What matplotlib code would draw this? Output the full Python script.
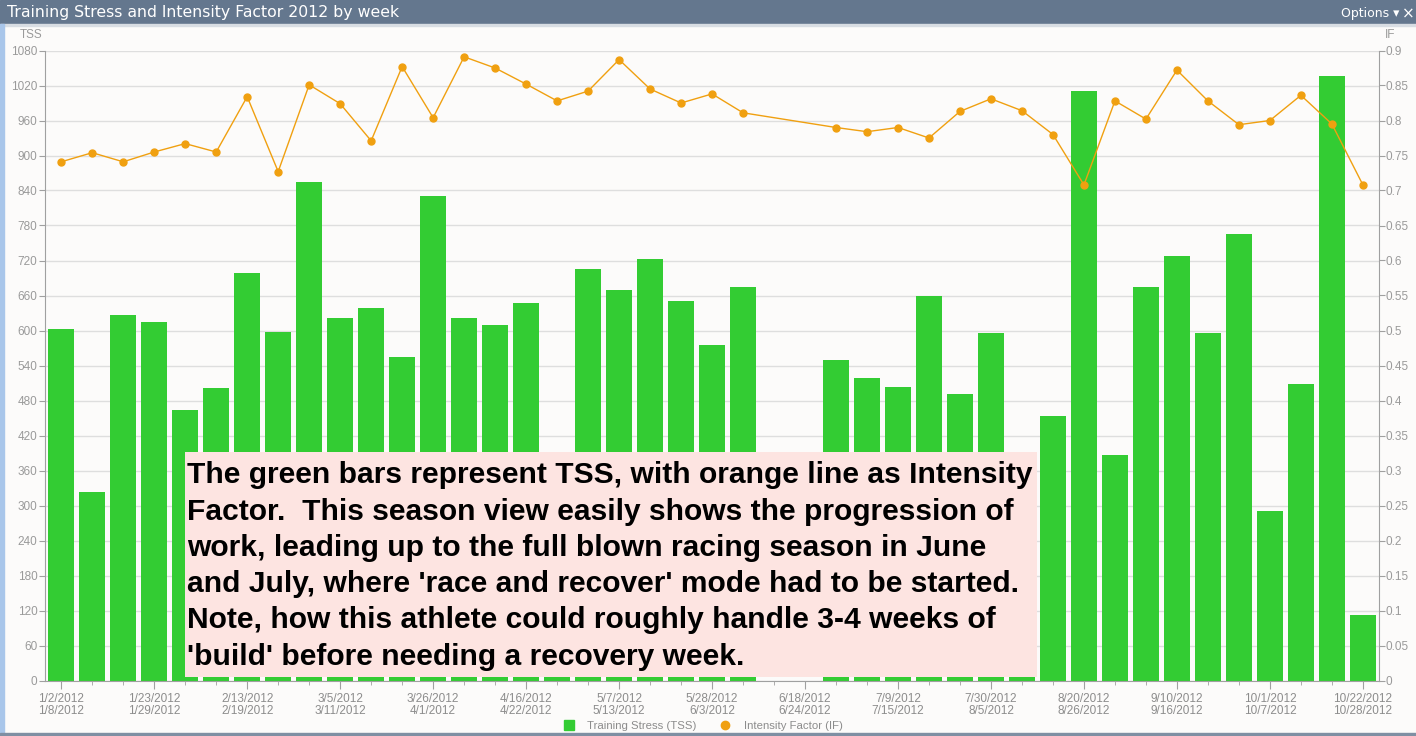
import numpy as np
import matplotlib
matplotlib.use("Agg")
import matplotlib.pyplot as plt
from matplotlib.patches import Rectangle
from matplotlib.lines import Line2D
from matplotlib import font_manager

# weekly data, 1/2/2012 .. 10/22/2012 (43 weeks), None = no data that week
tss = [603, 324, 627, 615, 463, 502, 698, 597, 854, 621, 638, 554, 831, 621,
       609, 648, 350, 706, 669, 723, 651, 576, 675, None, None, 549, 518, 504,
       660, 492, 595, 360, 454, 1011, 387, 675, 727, 595, 766, 291, 509, 1037, 113]
intensity = [0.741, 0.754, 0.741, 0.755, 0.767, 0.755, 0.834, 0.727, 0.851, 0.824,
             0.771, 0.877, 0.804, 0.891, 0.875, 0.852, 0.828, 0.842, 0.887, 0.845,
             0.825, 0.838, 0.811, None, None, 0.790, 0.784, 0.790, 0.775, 0.813,
             0.831, 0.814, 0.780, 0.708, 0.828, 0.802, 0.872, 0.828, 0.794, 0.800,
             0.836, 0.795, 0.708]

# every third week is labelled: week start / week end
start_labels = ["1/2/2012", "1/23/2012", "2/13/2012", "3/5/2012", "3/26/2012",
                "4/16/2012", "5/7/2012", "5/28/2012", "6/18/2012", "7/9/2012",
                "7/30/2012", "8/20/2012", "9/10/2012", "10/1/2012", "10/22/2012"]
end_labels = ["1/8/2012", "1/29/2012", "2/19/2012", "3/11/2012", "4/1/2012",
              "4/22/2012", "5/13/2012", "6/3/2012", "6/24/2012", "7/15/2012",
              "8/5/2012", "8/26/2012", "9/16/2012", "10/7/2012", "10/28/2012"]

note_lines = [
    "The green bars represent TSS, with orange line as Intensity",
    "Factor.  This season view easily shows the progression of",
    "work, leading up to the full blown racing season in June",
    "and July, where 'race and recover' mode had to be started.",
    "Note, how this athlete could roughly handle 3-4 weeks of",
    "'build' before needing a recovery week.",
]

installed = {f.name for f in font_manager.fontManager.ttflist}
narrow = 'Liberation Sans Narrow' if 'Liberation Sans Narrow' in installed else 'Liberation Sans'

W, H = 1416, 736
def fx(p):
    return p / W
def fy(p):
    return 1 - p / H

GREEN = '#33cc33'
ORANGE = '#f0a010'
GREY = '#a0a0a0'
BG = '#fcfbfa'

fig = plt.figure(figsize=(W / 100, H / 100), dpi=100)
fig.patch.set_facecolor(BG)

# window chrome
fig.add_artist(Rectangle((0, fy(24)), 1, 24 / H, transform=fig.transFigure,
                         color='#64778e', zorder=0))
fig.add_artist(Rectangle((0, fy(26)), 1, 2 / H, transform=fig.transFigure,
                         color='#d8dde3', zorder=0))
fig.add_artist(Rectangle((0, 0), fx(4), fy(24), transform=fig.transFigure,
                         color='#a9c6ea', zorder=0))
fig.add_artist(Rectangle((0, 0), 1, 3 / H, transform=fig.transFigure,
                         color='#7f8fa3', zorder=0))
fig.text(fx(7), fy(12), "Training Stress and Intensity Factor 2012 by week",
         color='white', fontsize=11.3, va='center', ha='left', family='DejaVu Sans')
fig.text(fx(1341), fy(14), "Options \u25be", color='white', fontsize=9,
         va='center', ha='left', family='DejaVu Sans')
fig.text(fx(1402), fy(14), "\u00d7", color='white', fontsize=11,
         va='center', ha='left', family='DejaVu Sans')

x = np.arange(len(tss))
tss_arr = np.array([np.nan if v is None else v for v in tss], dtype=float)
has_if = [i for i, v in enumerate(intensity) if v is not None]

ax = fig.add_axes([fx(44.5), fy(680.5), fx(1379) - fx(44.5), (680.5 - 50.5) / H])
ax.set_facecolor(BG)
ok = ~np.isnan(tss_arr)
ax.bar(x[ok], tss_arr[ok], width=0.84, color=GREEN, zorder=2)
ax.set_xlim(-0.54, 42.52)
ax.set_ylim(0, 1080)
ax.set_yticks(range(0, 1081, 60))
ax.yaxis.grid(True, color='#dedede', lw=1)
ax.set_axisbelow(True)
for s in ['top', 'right']:
    ax.spines[s].set_visible(False)
for s in ['left', 'bottom']:
    ax.spines[s].set_color(GREY)
ax.set_xticks(x[::3])
ax.set_xticklabels([a + "\n" + b for a, b in zip(start_labels, end_labels)])
ax.set_xticks(x, minor=True)
ax.tick_params(axis='x', which='major', length=6, color=GREY, labelcolor='#8c8c8c',
               labelsize=8.5, pad=3)
ax.tick_params(axis='x', which='minor', length=3, color=GREY)
ax.tick_params(axis='y', length=4, color=GREY, labelcolor='#9a9a9a', labelsize=8.5, pad=1)
for lab in ax.get_xticklabels() + ax.get_yticklabels():
    lab.set_family(narrow)
    lab.set_linespacing(1.05)

ax2 = ax.twinx()
ax2.plot(has_if, [intensity[i] for i in has_if], color=ORANGE, lw=1,
         marker='o', ms=5, zorder=3)
ax2.set_ylim(0, 0.9)
ax2.set_yticks(np.arange(0, 0.901, 0.05))
ax2.set_yticklabels(['{:g}'.format(round(v, 2)) for v in np.arange(0, 0.901, 0.05)])
for s in ['top', 'left', 'bottom']:
    ax2.spines[s].set_visible(False)
ax2.spines['right'].set_color(GREY)
ax2.tick_params(axis='y', length=4, color=GREY, labelcolor='#9a9a9a', labelsize=8.5, pad=1)
for lab in ax2.get_yticklabels():
    lab.set_family(narrow)

fig.text(fx(20), fy(35), "TSS", color='#9a9a9a', fontsize=8.5, family=narrow,
         va='center', ha='left')
fig.text(fx(1385), fy(35), "IF", color='#9a9a9a', fontsize=8.5, family=narrow,
         va='center', ha='left')

# annotation box over the chart
fig.add_artist(Rectangle((fx(185), fy(676.5)), fx(1037) - fx(185), (676.5 - 451.7) / H,
                         transform=fig.transFigure, facecolor='#fde4e1',
                         edgecolor='none', zorder=3))
for k, line in enumerate(note_lines):
    fig.text(fx(187), fy(483.3 + 36.3 * k), line, fontsize=21.6, fontweight='bold',
             family='Liberation Sans', color='black', va='baseline', ha='left',
             zorder=4)

handles = [Line2D([], [], marker='s', color=GREEN, ls='none', ms=7),
           Line2D([], [], marker='o', color=ORANGE, ls='none', ms=6)]
leg = fig.legend(handles, ["Training Stress (TSS)", "Intensity Factor (IF)"],
                 loc='center', bbox_to_anchor=(fx(703), fy(726)), ncol=2,
                 frameon=False, handlelength=1.0, handletextpad=1.1,
                 columnspacing=2.0, prop={'family': narrow, 'size': 8.2})
for t in leg.get_texts():
    t.set_color('#8c8c8c')

fig.savefig("out.png", dpi=100, facecolor=BG)
